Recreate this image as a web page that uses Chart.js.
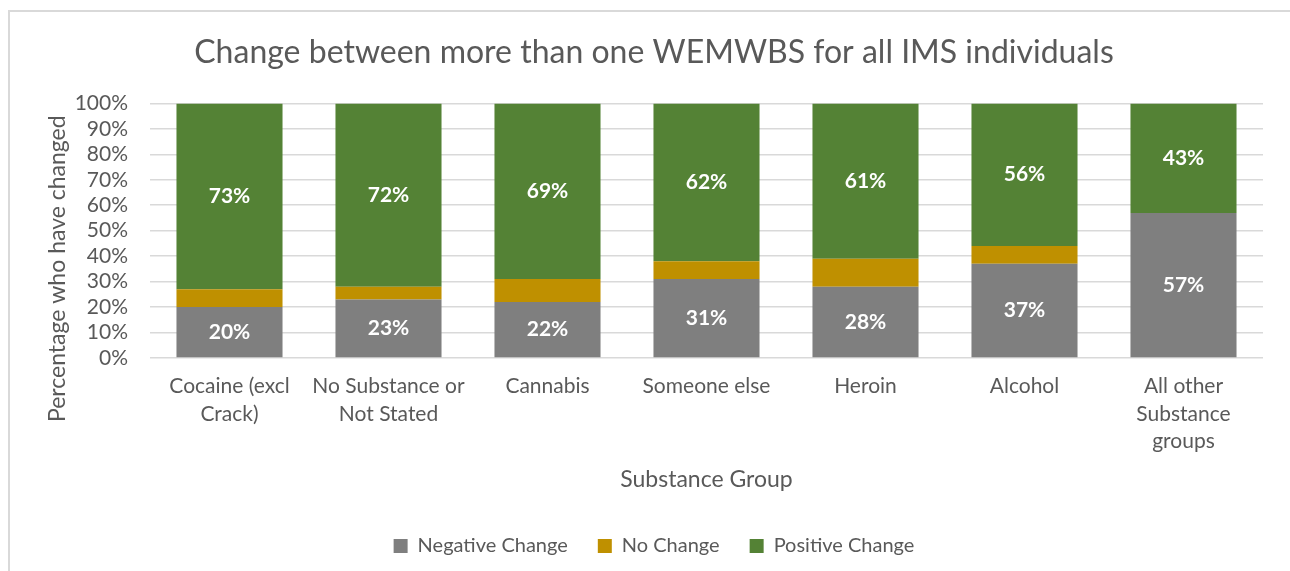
<!DOCTYPE html>
<html>
<head>
<meta charset="utf-8">
<script src="https://cdn.jsdelivr.net/npm/chart.js@4.4.1/dist/chart.umd.min.js"></script>
<style>
  html, body { margin: 0; padding: 0; background: #fff; overflow: hidden; }
  #frame {
    position: absolute; left: 8px; top: 10px; width: 1300px; height: 580px;
    border-top: 2px solid #d9d9d9; border-left: 2px solid #d9d9d9;
  }
  #wrap { position: absolute; left: 0; top: 0; width: 1290px; height: 571px; }
</style>
</head>
<body>
<div id="frame"></div>
<div id="wrap"><canvas id="changeChart" width="1290" height="571"></canvas></div>
<script>
// Data
const substanceGroups = [
    ["Cocaine (excl", "Crack)"],
    ["No Substance or", "Not Stated"],
    "Cannabis",
    "Someone else",
    "Heroin",
    "Alcohol",
    ["All other", "Substance", "groups"]
];
const negativeChange = [20, 23, 22, 31, 28, 37, 57];
const noChange = [7, 5, 9, 7, 11, 7, 0];
const positiveChange = [73, 72, 69, 62, 61, 56, 43];
const yTicks = [0, 10, 20, 30, 40, 50, 60, 70, 80, 90, 100];
const yAxisTitle = "Percentage who have changed";

const textGrey = "#595959";
const fontFamily = "Lato, 'Open Sans', sans-serif";

// Draws the white percentage labels inside the grey and green segments
const segmentLabels = {
    id: "segmentLabels",
    afterDatasetsDraw(chart) {
        const ctx = chart.ctx;
        ctx.save();
        ctx.fillStyle = "#ffffff";
        ctx.font = "bold 21px " + fontFamily;
        ctx.textAlign = "center";
        ctx.textBaseline = "middle";
        [0, 2].forEach(i => {
            const meta = chart.getDatasetMeta(i);
            const values = chart.data.datasets[i].data;
            meta.data.forEach((bar, j) => {
                if (!values[j]) return;
                ctx.fillText(values[j] + "%", bar.x, (bar.y + bar.base) / 2);
            });
        });
        ctx.restore();
    }
};

// Excel centres the y title a bit lower than the plot area, so draw it ourselves
const yTitle = {
    id: "yTitle",
    afterDraw(chart) {
        const ctx = chart.ctx;
        const area = chart.chartArea;
        const midY = (area.top + area.bottom) / 2 + 38;
        ctx.save();
        ctx.translate(58, midY);
        ctx.rotate(-Math.PI / 2);
        ctx.fillStyle = textGrey;
        ctx.font = "23px " + fontFamily;
        ctx.textAlign = "center";
        ctx.textBaseline = "middle";
        ctx.fillText(yAxisTitle, 0, 0);
        ctx.restore();
    }
};

function initializeChart() {
    const ctx = document.getElementById("changeChart").getContext("2d");
    new Chart(ctx, {
        type: "bar",
        data: {
            labels: substanceGroups,
            datasets: [
                { label: "Negative Change", data: negativeChange, backgroundColor: "#7f7f7f" },
                { label: "No Change", data: noChange, backgroundColor: "#bf9000" },
                { label: "Positive Change", data: positiveChange, backgroundColor: "#548235" }
            ]
        },
        options: {
            responsive: false,
            animation: false,
            categoryPercentage: 1,
            barPercentage: 0.667,
            layout: { padding: { left: 45, right: 27, top: 10, bottom: 5 } },
            plugins: {
                title: {
                    display: true,
                    text: "Change between more than one WEMWBS for all IMS individuals",
                    color: textGrey,
                    font: { family: fontFamily, size: 32, weight: "normal", lineHeight: 1.2 },
                    padding: { top: 23, bottom: 32 }
                },
                legend: {
                    position: "bottom",
                    labels: {
                        color: textGrey,
                        font: { family: fontFamily, size: 20 },
                        boxWidth: 14,
                        boxHeight: 14,
                        padding: 30
                    }
                },
                tooltip: { enabled: false }
            },
            scales: {
                x: {
                    stacked: true,
                    grid: { display: false, drawTicks: false },
                    border: { display: false },
                    afterFit: scale => { scale.height = 148; },
                    ticks: {
                        color: textGrey,
                        font: { family: fontFamily, size: 21, lineHeight: 1.3 },
                        maxRotation: 0,
                        autoSkip: false,
                        padding: 15
                    },
                    title: {
                        display: true,
                        text: "Substance Group",
                        color: textGrey,
                        font: { family: fontFamily, size: 23, lineHeight: 1.2 },
                        padding: { top: 10, bottom: 13 }
                    }
                },
                y: {
                    stacked: true,
                    min: 0,
                    max: 100,
                    afterBuildTicks: scale => { scale.ticks = yTicks.map(v => ({ value: v })); },
                    afterFit: scale => { scale.width = 105; },
                    grid: { color: "#d9d9d9", lineWidth: 1.5, drawTicks: false },
                    border: { display: false },
                    ticks: {
                        color: textGrey,
                        font: { family: fontFamily, size: 21 },
                        padding: 22,
                        autoSkip: false,
                        callback: v => v + "%"
                    }
                }
            }
        },
        plugins: [segmentLabels, yTitle]
    });
}

initializeChart();
</script>
</body>
</html>
